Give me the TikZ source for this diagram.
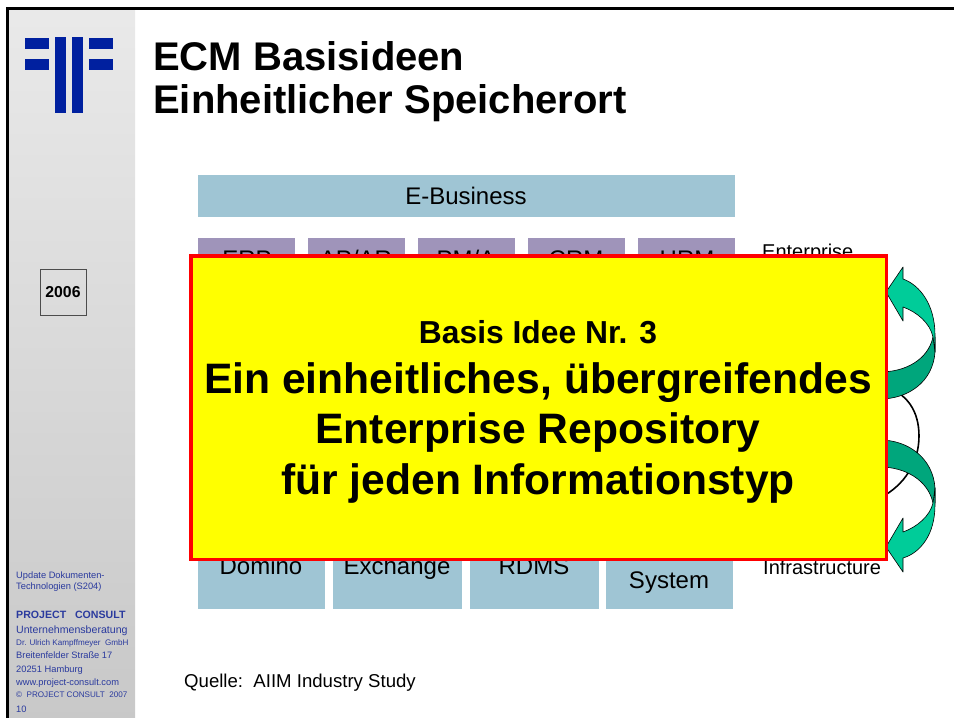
\documentclass[tikz,border=0pt]{standalone}
\usepackage{fontspec}
\setmainfont{Liberation Sans}
\definecolor{paleblue}{HTML}{9FC5D4}
\definecolor{palepurple}{HTML}{9F94BA}
\definecolor{logoblue}{HTML}{00209F}
\definecolor{sideblue}{HTML}{2A3A9E}
\definecolor{arrowlight}{HTML}{00CC99}
\definecolor{arrowdark}{HTML}{00A67C}
\definecolor{noteyellow}{HTML}{FFFF00}
\definecolor{notered}{HTML}{FF0000}
\pgfdeclareverticalshading{sidepanel}{100bp}{color(0bp)=(black!28); color(100bp)=(black!2)}
\newcommand{\fsz}[1]{\fontsize{#1}{#1}\selectfont}
\tikzset{
  bluebox/.style={fill=paleblue},
  purplebox/.style={fill=palepurple},
  logobar/.style={fill=logoblue},
  boxlabel/.style={inner sep=0pt,anchor=base,font=\fsz{24}},
  sidelabel/.style={inner sep=0pt,anchor=base west,text=sideblue},
  bigline/.style={inner sep=0pt,anchor=base,font=\fsz{42.6}\bfseries},
  arrowpart/.style={draw=black,line width=0.6pt,line join=round}
}
\begin{document}
\begin{tikzpicture}[x=1pt,y=-1pt]
  \useasboundingbox (0,0) rectangle (954,718);
  \fill[white] (0,0) rectangle (954,718);
  \shade[shading=sidepanel] (8,9) rectangle (135,718);
  \draw[line width=3pt] (7.5,718) -- (7.5,8.5) -- (954,8.5);

  \fill[logobar] (25,38) rectangle (49,49);
  \fill[logobar] (25,59) rectangle (49,70);
  \fill[logobar] (55,37) rectangle (66,113);
  \fill[logobar] (72,37) rectangle (83,113);
  \fill[logobar] (89,38) rectangle (113,49);
  \fill[logobar] (89,59) rectangle (113,70);

  \node (T1) [inner sep=0pt,anchor=base west,font=\fsz{40}\bfseries] at (153,70) {ECM Basisideen};
  \node (T2) [inner sep=0pt,anchor=base west,font=\fsz{40}\bfseries] at (153,113) {Einheitlicher Speicherort};

  \node (Y) [draw=black!70,line width=0.8pt,minimum width=46pt,minimum height=46pt,inner sep=0pt,font=\fsz{15.8}\bfseries] at (63,292) {2006};

  \node (S1) [sidelabel,font=\fsz{9.3}] at (16,578) {Update Dokumenten-};
  \node (S2) [sidelabel,font=\fsz{9.3}] at (16,589) {Technologien (S204)};
  \node (S3) [sidelabel,font=\fsz{10.6}\bfseries] at (16,618) {PROJECT\ \ \ CONSULT};
  \node (S4) [sidelabel,font=\fsz{10.6}] at (16,633) {Unternehmensberatung};
  \node (S5) [sidelabel,font=\fsz{8.1}] at (16,645) {Dr. Ulrich Kampffmeyer\ \ GmbH};
  \node (S6) [sidelabel,font=\fsz{9.3}] at (16,658) {Breitenfelder Straße 17};
  \node (S7) [sidelabel,font=\fsz{9.3}] at (16,672) {20251 Hamburg};
  \node (S8) [sidelabel,font=\fsz{9.3}] at (16,685) {www.project-consult.com};
  \node (S9) [sidelabel,font=\fsz{8.1}] at (16,697) {©\ \ PROJECT CONSULT\ \ 2007};
  \node (S10) [sidelabel,font=\fsz{9.3}] at (16,712) {10};

  \fill[bluebox] (198,175) rectangle (735,217);
  \node (B) [boxlabel] at (466,204) {E-Business};

  \fill[purplebox] (198,238) rectangle (295,290);
  \fill[purplebox] (308,238) rectangle (405,290);
  \fill[purplebox] (418,238) rectangle (515,290);
  \fill[purplebox] (528,238) rectangle (625,290);
  \fill[purplebox] (638,238) rectangle (735,290);
  \node (P1) [boxlabel] at (247,267) {ERP};
  \node (P2) [boxlabel] at (356,267) {AP/AR};
  \node (P3) [boxlabel] at (466,267) {PM/A};
  \node (P4) [boxlabel] at (576,267) {CRM};
  \node (P5) [boxlabel] at (687,267) {HRM};
  \node (R1) [inner sep=0pt,anchor=base west,font=\fsz{20}] at (762,258) {Enterprise};

  \fill[bluebox] (198,530) rectangle (325,609);
  \fill[bluebox] (333,530) rectangle (462,609);
  \fill[bluebox] (470,530) rectangle (599,609);
  \fill[bluebox] (606,530) rectangle (733,609);
  \node (L1) [boxlabel] at (261,574) {Domino};
  \node (L2) [boxlabel] at (397,574) {Exchange};
  \node (L3) [boxlabel] at (534,574) {RDMS};
  \node (L4) [boxlabel] at (669,588) {System};
  \node (R2) [inner sep=0pt,anchor=base west,font=\fsz{20}] at (763,574) {Infrastructure};

  \node (Q) [inner sep=0pt,anchor=base west,font=\fsz{18.6}] at (184,687) {Quelle:\ \ AIIM Industry Study};

  \draw[line width=1.6pt] (880,385) .. controls (908,392) and (919,412) .. (919,436) .. controls (919,462) and (905,485) .. (880,498);

  \fill[arrowpart,fill=arrowdark] (880,372) .. controls (905,372) and (928,360) .. (933,337) -- (935,337) -- (935,352) .. controls (933,382) and (908,399) .. (880,399) -- cycle;
  \fill[arrowpart,fill=arrowlight] (903,267) -- (886,292) -- (903,321) -- (903,307) .. controls (917,312) and (930,323) .. (933,337) -- (935,352) -- (935,335) .. controls (935,305) and (920,285) .. (903,279) -- cycle;

  \fill[arrowpart,fill=arrowdark] (880,467) .. controls (905,467) and (928,480) .. (933,503) -- (935,503) -- (935,488) .. controls (933,458) and (908,440) .. (880,440) -- cycle;
  \fill[arrowpart,fill=arrowlight] (903,572) -- (886,547) -- (903,518) -- (903,532) .. controls (917,527) and (930,516) .. (933,503) -- (935,488) -- (935,505) .. controls (935,535) and (920,553) .. (903,558) -- cycle;

  \node (H) [draw=notered,fill=noteyellow,line width=3.5pt,minimum width=695.5pt,minimum height=303.5pt,inner sep=0pt] at (538.7,407.5) {};
  \node (H1) [inner sep=0pt,anchor=base,font=\fsz{31.8}\bfseries] at (538,343) {Basis Idee Nr. 3};
  \node (H2) [bigline] at (538,393) {Ein einheitliches, übergreifendes};
  \node (H3) [bigline] at (538,443) {Enterprise Repository};
  \node (H4) [bigline] at (538,494) {für jeden Informationstyp};
\end{tikzpicture}
\end{document}
